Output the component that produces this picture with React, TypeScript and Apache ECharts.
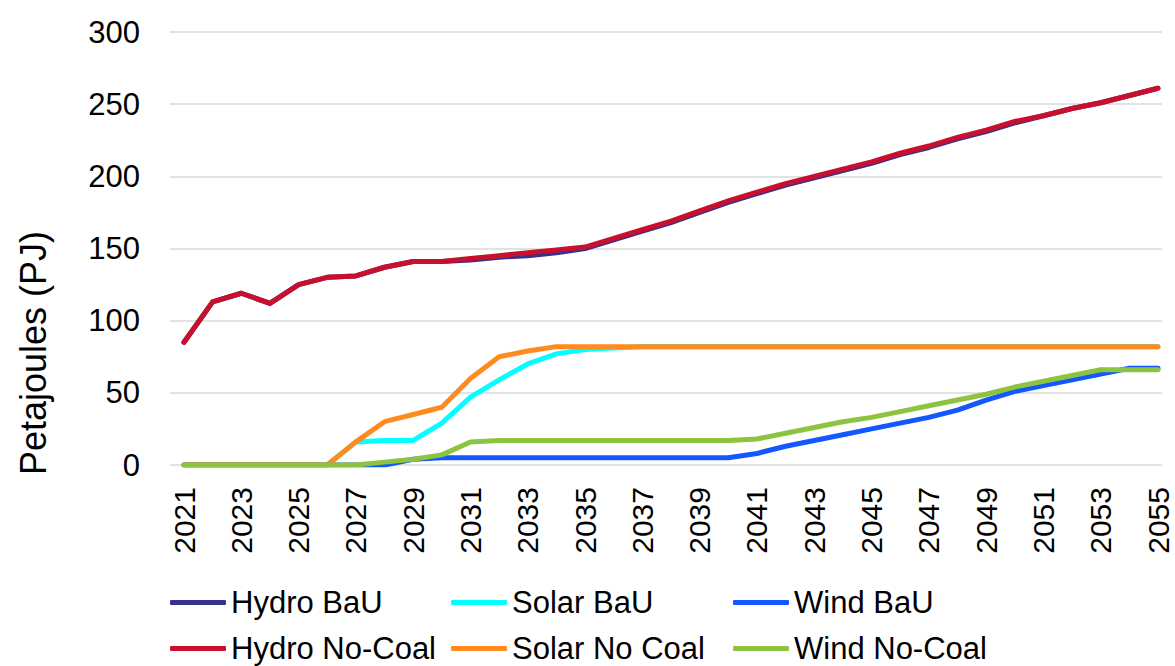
import React, { useEffect, useRef } from "react";
import * as echarts from "echarts";

const years = [
  "2021","2022","2023","2024","2025","2026","2027","2028","2029","2030",
  "2031","2032","2033","2034","2035","2036","2037","2038","2039","2040",
  "2041","2042","2043","2044","2045","2046","2047","2048","2049","2050",
  "2051","2052","2053","2054","2055",
];

const hydroBaU = [
  85, 113, 119, 112, 125, 130, 131, 137, 141, 141,
  142, 144, 145, 147, 150, 156, 162, 168, 175, 182,
  188, 194, 199, 204, 209, 215, 220, 226, 231, 237,
  242, 247, 251, 256, 261,
];
const solarBaU = [
  0, 0, 0, 0, 0, 0, 16, 17, 17, 29,
  47, 59, 70, 77, 80, 81, 82, 82, 82, 82,
  82, 82, 82, 82, 82, 82, 82, 82, 82, 82,
  82, 82, 82, 82, 82,
];
const windBaU = [
  0, 0, 0, 0, 0, 0, 0, 0, 4, 5,
  5, 5, 5, 5, 5, 5, 5, 5, 5, 5,
  8, 13, 17, 21, 25, 29, 33, 38, 45, 51,
  55, 59, 63, 67, 67,
];
const hydroNoCoal = [
  85, 113, 119, 112, 125, 130, 131, 137, 141, 141,
  143, 145, 147, 149, 151, 157, 163, 169, 176, 183,
  189, 195, 200, 205, 210, 216, 221, 227, 232, 238,
  242, 247, 251, 256, 261,
];
const solarNoCoal = [
  0, 0, 0, 0, 0, 0, 16, 30, 35, 40,
  60, 75, 79, 82, 82, 82, 82, 82, 82, 82,
  82, 82, 82, 82, 82, 82, 82, 82, 82, 82,
  82, 82, 82, 82, 82,
];
const windNoCoal = [
  0, 0, 0, 0, 0, 0, 0, 2, 4, 7,
  16, 17, 17, 17, 17, 17, 17, 17, 17, 17,
  18, 22, 26, 30, 33, 37, 41, 45, 49, 54,
  58, 62, 66, 66, 66,
];

const seriesDefs = [
  { name: "Hydro BaU", data: hydroBaU, color: "#35318F" },
  { name: "Solar BaU", data: solarBaU, color: "#00FFFF" },
  { name: "Wind BaU", data: windBaU, color: "#1257FF" },
  { name: "Hydro No-Coal", data: hydroNoCoal, color: "#C8102E" },
  { name: "Solar No Coal", data: solarNoCoal, color: "#FF8B1F" },
  { name: "Wind No-Coal", data: windNoCoal, color: "#8CC43F" },
];

const FONT = "'Liberation Sans', Arial, Helvetica, sans-serif";

export default function App() {
  const ref = useRef<HTMLDivElement>(null);

  useEffect(() => {
    if (!ref.current) return;
    const chart = echarts.init(ref.current, null, { renderer: "svg" });

    const legendPos = [
      { left: 170, top: 587 },
      { left: 451, top: 587 },
      { left: 733, top: 587 },
      { left: 170, top: 633 },
      { left: 451, top: 633 },
      { left: 733, top: 633 },
    ];

    const option: any = {
      animation: false,
      backgroundColor: "#ffffff",
      textStyle: { fontFamily: FONT },
      grid: [
        { left: 170, right: 13, top: 32, bottom: 201 },
        { left: 184, right: 17, top: 32, bottom: 201 },
      ],
      xAxis: [
        {
          gridIndex: 0,
          type: "category",
          data: years,
          show: false,
        },
        {
          gridIndex: 1,
          type: "category",
          data: years,
          boundaryGap: false,
          axisLine: { show: false },
          axisTick: { show: false },
          axisLabel: {
            interval: 1,
            rotate: 90,
            margin: 22,
            fontSize: 30,
            lineHeight: 24,
            color: "#000000",
            fontFamily: FONT,
          },
        },
      ],
      yAxis: [
        {
          gridIndex: 0,
          type: "value",
          min: 0,
          max: 300,
          interval: 50,
          axisLine: { show: false },
          axisTick: { show: false },
          axisLabel: {
            fontSize: 31,
            color: "#000000",
            margin: 30,
            fontFamily: FONT,
          },
          splitLine: { lineStyle: { color: "#d9d9d9", width: 1.5 } },
        },
        {
          gridIndex: 1,
          type: "value",
          min: 0,
          max: 300,
          interval: 50,
          show: false,
          splitLine: { show: false },
        },
      ],
      legend: seriesDefs.map((s, i) => ({
        data: [s.name],
        left: legendPos[i].left,
        top: legendPos[i].top,
        padding: 0,
        selectedMode: false,
        icon: "roundRect",
        itemWidth: 56,
        itemHeight: 5,
        textStyle: {
          fontSize: 31,
          lineHeight: 28,
          color: "#000000",
          fontFamily: FONT,
        },
      })),
      graphic: [
        {
          type: "text",
          x: 33,
          y: 353,
          rotation: Math.PI / 2,
          style: {
            text: "Petajoules (PJ)",
            fontSize: 36,
            fontFamily: FONT,
            fill: "#000000",
            textAlign: "center",
            textVerticalAlign: "middle",
          },
        },
      ],
      series: seriesDefs.map((s) => ({
        name: s.name,
        type: "line",
        xAxisIndex: 1,
        yAxisIndex: 1,
        data: s.data,
        showSymbol: false,
        symbol: "none",
        color: s.color,
        lineStyle: { color: s.color, width: 5, cap: "round", join: "round" },
      })),
    };

    chart.setOption(option);
    return () => chart.dispose();
  }, []);

  return (
    <div
      ref={ref}
      style={{ position: "fixed", left: 0, top: 0, width: 1175, height: 666 }}
    />
  );
}
